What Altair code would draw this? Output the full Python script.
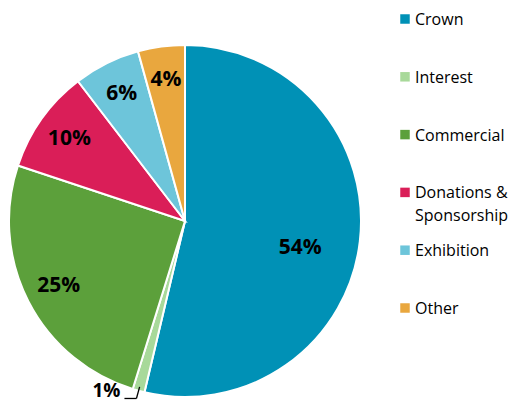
import altair as alt
import pandas as pd

categories = ["Crown", "Interest", "Commercial", "Donations & Sponsorship", "Exhibition", "Other"]
legend_labels = ["Crown", "Interest", "Commercial", "Donations &\nSponsorship", "Exhibition", "Other"]
values = [53.7, 1.1, 25.3, 9.5, 6.1, 4.3]
pct_labels = ["54%", "1%", "25%", "10%", "6%", "4%"]
colors = ["#0091B6", "#A8D99A", "#5CA03B", "#DA1E58", "#6DC5DA", "#E9A73E"]

df = pd.DataFrame({
    "category": categories,
    "legend": legend_labels,
    "value": values,
    "label": pct_labels,
    "order": list(range(len(categories))),
})

CX, CY, R = 177, 213, 176
FONT = "Open Sans"

base = alt.Chart(df).transform_joinaggregate(
    total="sum(value)"
).transform_window(
    cum="sum(value)", sort=[alt.SortField("order")], frame=[None, 0]
).transform_calculate(
    mid="datum.cum - datum.value / 2",
    ang="2 * PI * (datum.cum - datum.value / 2) / datum.total",
)

color = alt.Color("category:N", scale=alt.Scale(domain=categories, range=colors), legend=None)
theta_scale = alt.Scale(domain=[0, 100])

pie = alt.Chart(df).mark_arc(outerRadius=R, stroke="white", strokeWidth=2).encode(
    theta=alt.Theta("value:Q", stack=True, scale=theta_scale),
    order=alt.Order("order:Q"),
    color=color,
    x=alt.value(CX),
    y=alt.value(CY),
)

big_label = base.transform_filter("datum.order == 0").mark_text(
    radius=116, dy=14, font=FONT, fontSize=21, fontWeight="bold", color="black"
).encode(
    theta=alt.Theta("mid:Q", scale=theta_scale),
    text="label:N",
    x=alt.value(CX),
    y=alt.value(CY),
)

small_labels = base.transform_filter("datum.order >= 2").mark_text(
    radius=142, font=FONT, fontSize=21, fontWeight="bold", color="black"
).encode(
    theta=alt.Theta("mid:Q", scale=theta_scale),
    text="label:N",
    x=alt.value(CX),
    y=alt.value(CY),
)

# leader line for the small slice
leader_base = base.transform_filter("datum.order == 1").transform_calculate(
    x1=f"{CX} + {R - 4} * sin(datum.ang)",
    y1=f"{CY} - {R - 4} * cos(datum.ang)",
    x2=f"{CX} + {R + 8} * sin(datum.ang)",
    y2=f"{CY} - {R + 8} * cos(datum.ang)",
    x3=f"{CX} + {R + 8} * sin(datum.ang) - 12",
)
leader1 = leader_base.mark_rule(color="black", strokeWidth=1.3).encode(
    x=alt.X("x1:Q", scale=None), y=alt.Y("y1:Q", scale=None),
    x2="x2:Q", y2="y2:Q",
)
leader2 = leader_base.mark_rule(color="black", strokeWidth=1.3).encode(
    x=alt.X("x2:Q", scale=None), y=alt.Y("y2:Q", scale=None),
    x2="x3:Q", y2="y2:Q",
)
small_text = leader_base.mark_text(
    align="right", baseline="bottom", dx=-4, dy=3, font=FONT, fontSize=19,
    fontWeight="bold", color="black"
).encode(
    x=alt.X("x3:Q", scale=None), y=alt.Y("y2:Q", scale=None), text="label:N"
)

ypos = alt.Scale(type="point", domain=categories, range=[11, 300], padding=0)
leg_sym = alt.Chart(df).mark_square(size=90, opacity=1).encode(
    x=alt.value(397),
    y=alt.Y("category:N", scale=ypos, axis=None),
    color=color,
)
leg_txt = alt.Chart(df).mark_text(
    align="left", baseline="alphabetic", dy=6, lineBreak="\n", lineHeight=23,
    font=FONT, fontSize=16, color="black"
).encode(
    x=alt.value(407),
    y=alt.Y("category:N", scale=ypos, axis=None),
    text="legend:N",
)

chart = alt.layer(
    pie, big_label, small_labels, leader1, leader2, small_text, leg_sym, leg_txt
).resolve_scale(x="independent", y="independent").properties(
    width=505, height=395, padding=0, autosize="none"
).configure_view(stroke=None)

chart.save("out.html", embed_options={"renderer": "svg", "actions": False})
